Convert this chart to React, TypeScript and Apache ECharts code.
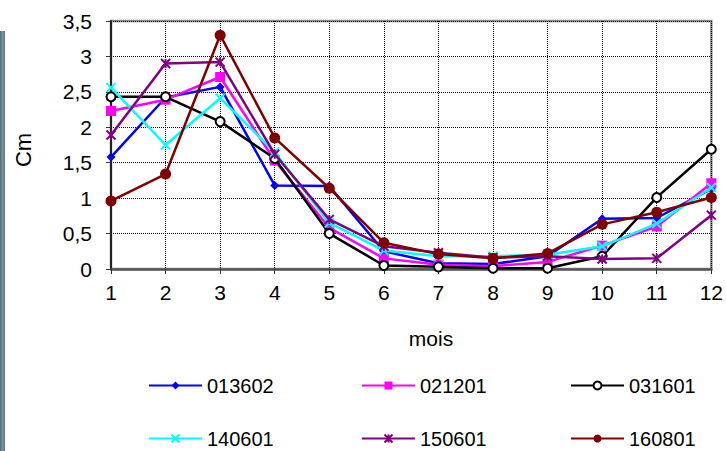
import React, { useEffect, useRef } from "react";
import * as echarts from "echarts";

const months = ["1", "2", "3", "4", "5", "6", "7", "8", "9", "10", "11", "12"];
const seriesNames = ["013602", "021201", "031601", "140601", "150601", "160801"];
const s013602 = [1.58, 2.42, 2.57, 1.18, 1.17, 0.25, 0.08, 0.07, 0.18, 0.71, 0.72, 1.13];
const s021201 = [2.23, 2.39, 2.71, 1.53, 0.58, 0.15, 0.06, 0.04, 0.1, 0.33, 0.6, 1.21];
const s031601 = [2.43, 2.43, 2.08, 1.56, 0.5, 0.05, 0.03, 0.01, 0.01, 0.18, 1.01, 1.69];
const s140601 = [2.56, 1.75, 2.41, 1.65, 0.65, 0.26, 0.18, 0.18, 0.2, 0.32, 0.64, 1.15];
const s150601 = [1.89, 2.9, 2.92, 1.62, 0.7, 0.32, 0.23, 0.16, 0.18, 0.14, 0.15, 0.76];
const s160801 = [0.96, 1.34, 3.3, 1.85, 1.14, 0.37, 0.21, 0.15, 0.22, 0.63, 0.8, 1.01];
const yTicks = { min: 0, max: 3.5, interval: 0.5 };

const FONT = "'Liberation Sans', Arial, sans-serif";
const FS = 21;

export default function App() {
  const ref = useRef<HTMLDivElement>(null);
  useEffect(() => {
    if (!ref.current) return;
    const chart = echarts.init(ref.current, undefined, { renderer: "svg" });
    const values = [s013602, s021201, s031601, s140601, s150601, s160801];
    const colors = ["#0000FF", "#FF00FF", "#000000", "#00FFFF", "#800080", "#800000"];
    const symbols = [
      "diamond",
      "rect",
      "emptyCircle",
      "path://M0,0L10,10M10,0L0,10",
      "path://M0,0L10,10M10,0L0,10M5,0L5,10",
      "circle",
    ];
    const sizes = [9, 10, 9, 9, 9, 11];
    const series = seriesNames.map((name, i) => {
      const isPath = symbols[i].startsWith("path://");
      return {
        name,
        type: "line",
        data: values[i],
        symbol: symbols[i],
        symbolSize: sizes[i],
        showSymbol: true,
        lineStyle: { color: colors[i], width: 2.5 },
        itemStyle: isPath
          ? { color: "none", borderColor: colors[i], borderWidth: 2 }
          : symbols[i] === "emptyCircle"
          ? { color: colors[i], borderColor: colors[i], borderWidth: 1.5 }
          : { color: colors[i] },
        z: 2 + i,
      };
    });
    const legendPos = [
      [148, 375],
      [361, 375],
      [570, 375],
      [148, 428],
      [361, 428],
      [570, 428],
    ];
    const legends = seriesNames.map((name, i) => ({
      data: [name],
      left: legendPos[i][0],
      top: legendPos[i][1],
      orient: "horizontal",
      itemWidth: 53,
      itemHeight: 10,
      itemGap: 0,
      padding: 0,
      selectedMode: false,
      textStyle: { fontFamily: FONT, fontSize: 20, color: "#000", lineHeight: 21 },
    }));
    chart.setOption({
      animation: false,
      backgroundColor: "#fff",
      textStyle: { fontFamily: FONT },
      grid: {
        left: 111,
        right: 14,
        top: 21,
        bottom: 182,
        show: true,
        borderColor: "#8c8c8c",
        borderWidth: 2.5,
        backgroundColor: "transparent",
      },
      legend: legends,
      xAxis: {
        type: "category",
        data: months,
        boundaryGap: false,
        axisLine: { show: true, lineStyle: { color: "#555", width: 2.5 } },
        axisTick: { show: true, length: 5, lineStyle: { color: "#333" }, interval: 0 },
        axisLabel: { fontFamily: FONT, fontSize: FS, color: "#000", margin: 13, interval: 0 },
        splitLine: { show: true, interval: 0, lineStyle: { color: "#000", type: [1, 1], width: 1 } },
      },
      yAxis: {
        type: "value",
        min: yTicks.min,
        max: yTicks.max,
        interval: yTicks.interval,
        axisLine: { show: true, lineStyle: { color: "#222", width: 2 } },
        axisTick: { show: true, length: 5, lineStyle: { color: "#333" } },
        axisLabel: {
          fontFamily: FONT,
          fontSize: FS,
          color: "#000",
          margin: 19,
          formatter: (v: number) => String(v).replace(".", ","),
        },
        splitLine: { show: true, lineStyle: { color: "#000", type: [1, 1], width: 1 } },
      },
      graphic: [
        {
          type: "rect",
          left: 0,
          top: 31,
          shape: { width: 5, height: 420 },
          style: {
            fill: new echarts.graphic.LinearGradient(0, 0, 1, 0, [
              { offset: 0, color: "#4f6a72" },
              { offset: 0.5, color: "#7b9399" },
              { offset: 1, color: "#5d777f" },
            ]),
          },
        },
        {
          type: "text",
          x: 23,
          y: 150,
          rotation: Math.PI / 2,
          style: {
            text: "Cm",
            fontFamily: FONT,
            fontSize: 22,
            fill: "#000",
            align: "center",
            verticalAlign: "middle",
          },
        },
        {
          type: "text",
          x: 431,
          y: 338,
          style: {
            text: "mois",
            fontFamily: FONT,
            fontSize: FS,
            fill: "#000",
            align: "center",
            verticalAlign: "middle",
          },
        },
      ],
      series,
    });
    return () => chart.dispose();
  }, []);
  return <div ref={ref} style={{ width: 726, height: 451, position: "fixed", left: 0, top: 0 }} />;
}
